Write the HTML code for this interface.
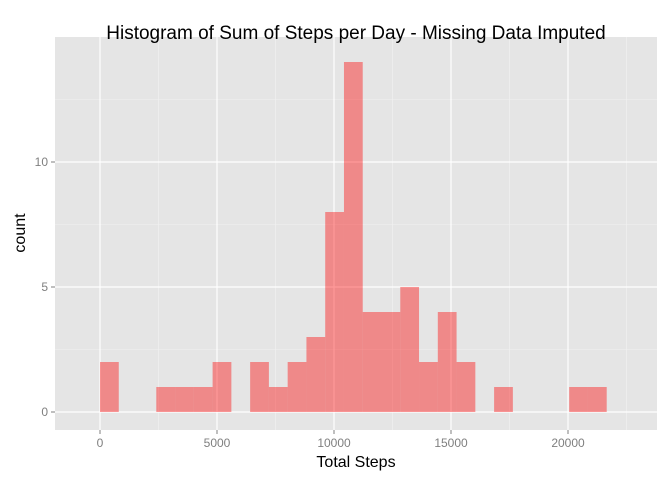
<!DOCTYPE html>
<html><head><meta charset="utf-8"><style>body{margin:0;background:#fff}svg{display:block;font-family:"Liberation Sans",sans-serif}</style></head>
<body>
<svg id="chart" width="672" height="480"></svg>
<script>
const binStart = 0;
const binWidth = 802;
const counts = [2,0,0,1,1,1,2,0,2,1,2,3,8,14,4,4,5,2,4,2,0,1,0,0,0,1,1];
const xTicks = [0,5000,10000,15000,20000];
const yTicks = [0,5,10];
const xMinor = [2500,7500,12500,17500,22500];
const yMinor = [2.5,7.5,12.5];

const P = {l:55,r:657,t:37,b:430};
const xs = v => 100 + v*0.0234;
const ys = v => 412 - v*25;
const NS = "http://www.w3.org/2000/svg";
const svg = document.getElementById('chart');
function mk(tag, attrs, parent){const e=document.createElementNS(NS,tag);for(const k in attrs)e.setAttribute(k,attrs[k]);(parent||svg).appendChild(e);return e;}

const bg = mk('rect',{x:P.l,y:P.t,width:P.r-P.l,height:P.b-P.t,fill:'#e5e5e5'});



xMinor.forEach(v=>{const l=mk('line',{x1:xs(v),x2:xs(v),y1:P.t,y2:P.b,stroke:'#f2f2f2','stroke-width':0.6});

});
yMinor.forEach(v=>{const l=mk('line',{x1:P.l,x2:P.r,y1:ys(v),y2:ys(v),stroke:'#f2f2f2','stroke-width':0.6});

});
xTicks.forEach(v=>{const l=mk('line',{x1:xs(v),x2:xs(v),y1:P.t,y2:P.b,stroke:'#fff','stroke-width':1.2});


const t=mk('line',{x1:xs(v),x2:xs(v),y1:P.b,y2:P.b+4,stroke:'#7f7f7f','stroke-width':1});


const tx=mk('text',{x:xs(v),y:P.b+17,'text-anchor':'middle','font-size':12,fill:'#7f7f7f'});tx.textContent=v;

});
yTicks.forEach(v=>{const l=mk('line',{x1:P.l,x2:P.r,y1:ys(v),y2:ys(v),stroke:'#fff','stroke-width':1.2});


const t=mk('line',{x1:P.l-4,x2:P.l,y1:ys(v),y2:ys(v),stroke:'#7f7f7f','stroke-width':1});


const tx=mk('text',{x:P.l-7,y:ys(v)+4,'text-anchor':'end','font-size':12,fill:'#7f7f7f'});tx.textContent=v;

});

counts.forEach((c,i)=>{if(!c)return;
const x0=xs(binStart+i*binWidth), x1=xs(binStart+(i+1)*binWidth);
const r=mk('rect',{x:x0,y:ys(c),width:x1-x0,height:ys(0)-ys(c),fill:'#ff0000','fill-opacity':0.4});

});

const title=mk('text',{x:356,y:39,'text-anchor':'middle','font-size':19,fill:'#000'});title.textContent='Histogram of Sum of Steps per Day - Missing Data Imputed';


const xl=mk('text',{x:356,y:467,'text-anchor':'middle','font-size':16,fill:'#000'});xl.textContent='Total Steps';


const yl=mk('text',{x:25,y:233,'text-anchor':'middle','font-size':16,fill:'#000',transform:'rotate(-90 25 233)'});yl.textContent='count';


</script>
</body></html>
